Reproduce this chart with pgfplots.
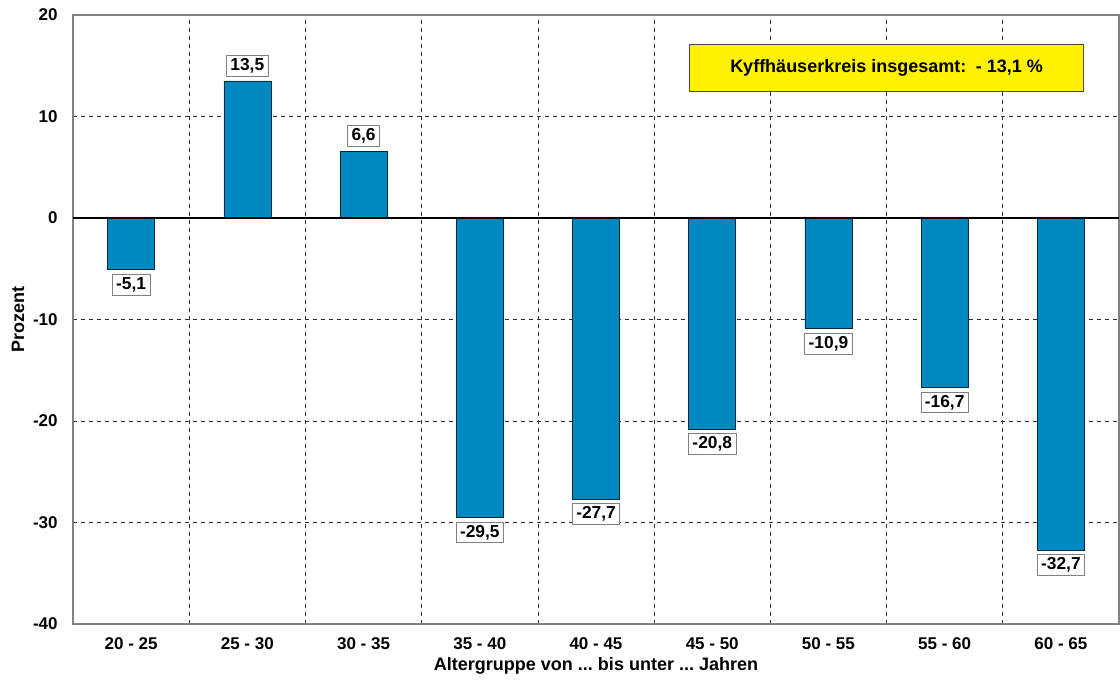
\documentclass[border=0pt]{standalone}
\usepackage{fontspec}
\setmainfont{Liberation Sans}
\usepackage{pgfplots}
\pgfplotsset{compat=1.18}
\definecolor{barblue}{RGB}{0,136,192}
\definecolor{frame}{RGB}{128,128,128}

\begin{document}
\frenchspacing
\begin{tikzpicture}
\begin{axis}[
    name=ax,
    width=784.5pt, height=456.75pt,
    scale only axis,
    ybar, bar width=35.25pt,
    xmin=-0.5, xmax=8.5,
    ymin=-40, ymax=20,
    ytick={-40,-30,...,20},
    xtick=data,
    xticklabels={20 - 25,25 - 30,30 - 35,35 - 40,40 - 45,45 - 50,50 - 55,55 - 60,60 - 65},
    minor xtick={0.5,1.5,...,7.5},
    xtick style={draw=none}, ytick style={draw=none},
    minor tick style={draw=none},
    xmajorgrids=false, xminorgrids=true, ymajorgrids=true,
    grid style={dashed, black!80, line width=0.5pt},
    minor grid style={dashed, black!80, line width=0.5pt},
    axis line style={frame, line width=0.8pt},
    /pgf/number format/assume math mode=true,
    ticklabel style={font=\bfseries\fontsize{12.75}{15}\selectfont},
    xticklabel style={anchor=center, yshift=-10.5pt},
    yticklabel style={anchor=east, xshift=-8pt},
    xlabel={Altergruppe von ... bis unter ... Jahren},
    ylabel={Prozent},
    label style={font=\bfseries\fontsize{13.5}{16}\selectfont},
    xlabel style={at={([yshift=-31.5pt]axis description cs:0.5,0)}, anchor=center},
    ylabel style={at={([xshift=-41.25pt]axis description cs:0,0.5)}, anchor=center, rotate=0},
    nodes near coords,
    nodes near coords align={vertical},
    every node near coord/.append style={
        font=\bfseries\fontsize{13}{15}\selectfont,
        fill=white, draw=frame, line width=0.6pt,
        inner xsep=3pt, inner ysep=2.2pt, outer sep=3.5pt,
        /pgf/number format/.cd, fixed, fixed zerofill, precision=1, use comma, assume math mode=true},
]
\addplot[fill=barblue, draw=black!70!barblue, line width=0.5pt] coordinates {
    (0,-5.1) (1,13.5) (2,6.6) (3,-29.5) (4,-27.7) (5,-20.8) (6,-10.9) (7,-16.7) (8,-32.7)
};
\draw[black, line width=2.2pt] (axis cs:-0.5,0) -- (axis cs:8.5,0);
\node[fill=yellow, draw=black!70, line width=0.6pt, minimum width=295pt, minimum height=35pt,
      font=\bfseries\fontsize{13.5}{16}\selectfont]
      at (axis cs:6.5,14.8) {Kyffhäuserkreis insgesamt:\hspace{0.25em} - 13,1 \%};
\end{axis}
\path ([xshift=-54.75pt,yshift=-42pt]ax.south west) rectangle ([xshift=0.75pt,yshift=11.25pt]ax.north east);
\end{tikzpicture}
\end{document}
